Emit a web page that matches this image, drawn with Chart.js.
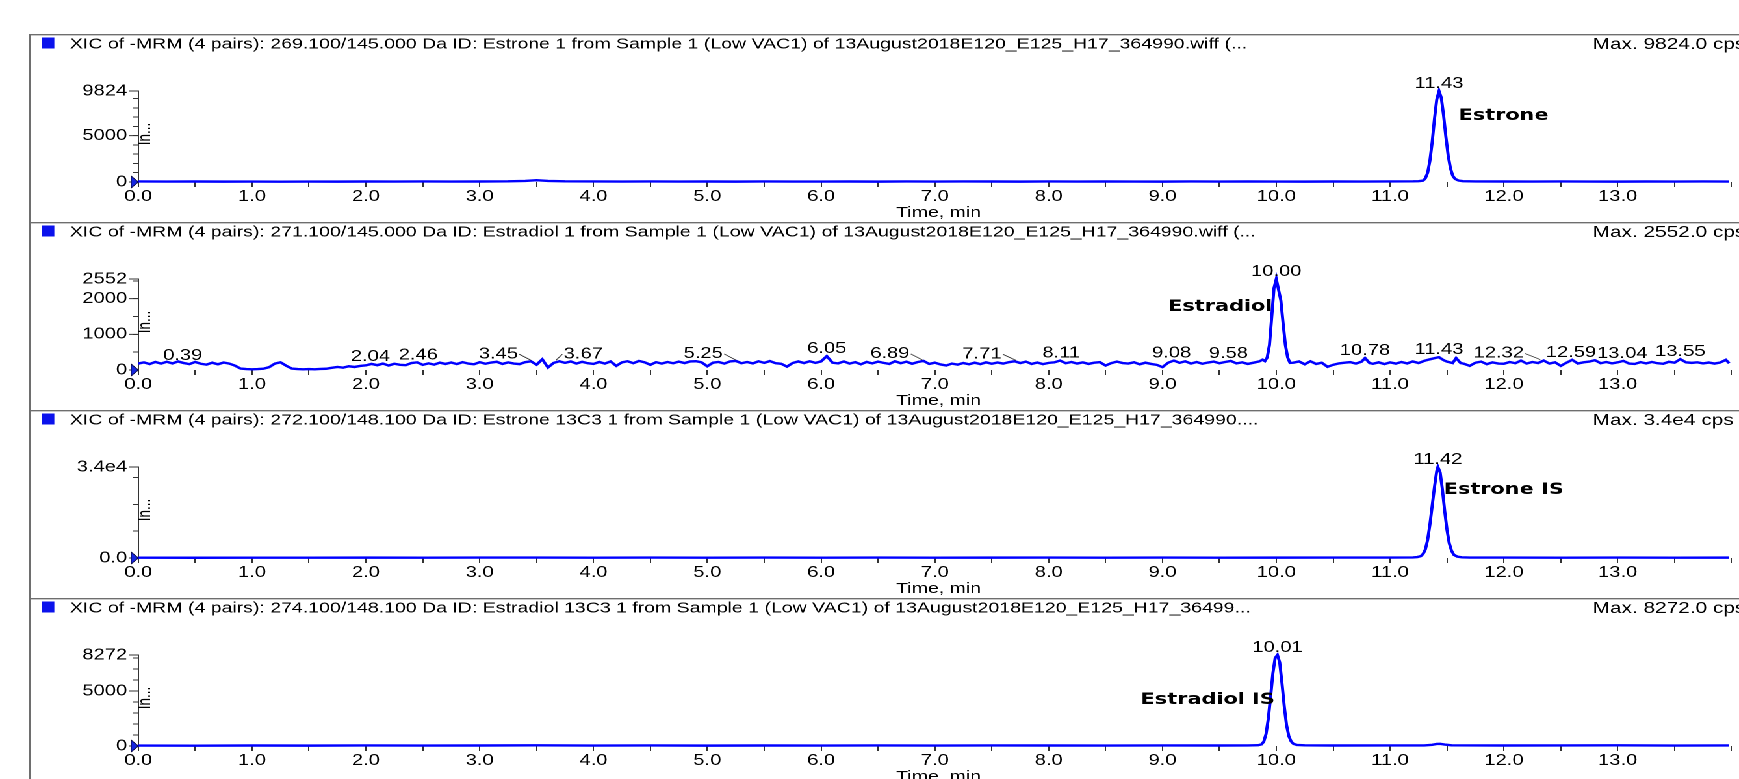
<!DOCTYPE html>
<html>
<head>
<meta charset="utf-8">
<title>XIC of -MRM (4 pairs)</title>
<script src="https://cdn.jsdelivr.net/npm/chart.js@4.4.1/dist/chart.umd.min.js"></script>
<style>
  html, body { margin: 0; padding: 0; background: #fff; overflow: hidden; width: 1739px; height: 779px; }
  /* the traces are laid out on a 1338px-wide sheet and widened to the window */
  #sheet { position: absolute; left: 0; top: 0; width: 1338px; height: 779px; transform-origin: 0 0; transform: scaleX(1.2997); }
  .panel { position: absolute; left: 0; width: 1338px; height: 188px; }
  canvas { display: block; }
</style>
</head>
<body>
<div id="sheet">
  <div class="panel" style="top:34px"><canvas id="xic1" width="1338" height="188"></canvas></div>
  <div class="panel" style="top:222px"><canvas id="xic2" width="1338" height="188"></canvas></div>
  <div class="panel" style="top:410px"><canvas id="xic3" width="1338" height="188"></canvas></div>
  <div class="panel" style="top:598px"><canvas id="xic4" width="1338" height="188"></canvas></div>
</div>
<script>
// ---- chromatogram data: [retention time (min), intensity (cps)] ----
const estrone = [
  [0,60],[0.25,45],[0.5,55],[0.75,40],[1,50],[1.25,35],[1.5,45],[1.75,40],[2,55],[2.25,45],[2.5,60],[2.75,50],
  [3,55],[3.25,70],[3.4,120],[3.5,190],[3.6,110],[3.75,70],[4,60],[4.25,50],[4.5,65],[4.75,45],[5,55],[5.25,40],
  [5.5,60],[5.75,50],[6,45],[6.25,55],[6.5,40],[6.75,60],[7,50],[7.25,65],[7.5,55],[7.75,40],[8,60],[8.25,45],
  [8.5,55],[8.75,50],[9,40],[9.25,60],[9.5,45],[9.75,55],[10,50],[10.25,40],[10.5,55],[10.75,45],[11,60],[11.2,70],
  [11.25,90],[11.29,150],[11.31,400],[11.33,1000],[11.35,2300],[11.37,4300],[11.39,6800],[11.41,8900],[11.43,9824],
  [11.45,9100],[11.47,7200],[11.49,4900],[11.51,2900],[11.53,1500],[11.55,700],[11.57,350],[11.6,160],[11.64,90],
  [11.75,60],[12,55],[12.25,45],[12.5,60],[12.75,50],[13,40],[13.25,55],[13.5,45],[13.75,60],[13.98,50]
];

const estradiol = [
  [0,180],[0.05,215],[0.1,165],[0.15,225],[0.2,180],[0.25,230],[0.3,185],[0.35,240],[0.4,195],[0.45,165],
  [0.5,225],[0.55,175],[0.6,150],[0.65,205],[0.7,160],[0.75,210],[0.8,180],[0.85,120],[0.9,40],[0.95,25],
  [1,20],[1.05,25],[1.1,35],[1.15,80],[1.2,180],[1.25,215],[1.3,120],[1.35,40],[1.4,25],[1.45,20],
  [1.5,25],[1.55,20],[1.6,30],[1.65,35],[1.7,60],[1.75,85],[1.8,65],[1.85,105],[1.9,85],[1.95,115],
  [2,130],[2.05,170],[2.1,135],[2.15,180],[2.2,125],[2.25,175],[2.3,145],[2.35,135],[2.4,195],[2.45,215],
  [2.5,145],[2.55,185],[2.6,150],[2.65,205],[2.7,170],[2.75,210],[2.8,165],[2.85,220],[2.9,180],[2.95,160],
  [3,220],[3.05,175],[3.1,210],[3.15,230],[3.2,170],[3.25,215],[3.3,180],[3.35,165],[3.4,220],[3.45,245],
  [3.5,150],[3.55,300],[3.6,70],[3.65,200],[3.7,245],[3.75,200],[3.8,240],[3.85,180],[3.9,230],[3.95,190],
  [4,170],[4.05,225],[4.1,180],[4.15,240],[4.2,115],[4.25,215],[4.3,245],[4.35,190],[4.4,255],[4.45,215],
  [4.5,145],[4.55,220],[4.6,180],[4.65,225],[4.7,190],[4.75,235],[4.8,195],[4.85,240],[4.9,245],[4.95,215],
  [5,105],[5.05,205],[5.1,225],[5.15,180],[5.2,240],[5.25,255],[5.3,190],[5.35,225],[5.4,185],[5.45,245],
  [5.5,200],[5.55,250],[5.6,190],[5.65,175],[5.7,95],[5.75,195],[5.8,240],[5.85,195],[5.9,245],[5.95,200],
  [6,240],[6.05,390],[6.1,205],[6.15,185],[6.2,240],[6.25,180],[6.3,220],[6.35,160],[6.4,225],[6.45,185],
  [6.5,235],[6.55,200],[6.6,170],[6.65,245],[6.7,190],[6.75,235],[6.8,175],[6.85,225],[6.9,255],[6.95,170],
  [7,205],[7.05,155],[7.1,125],[7.15,180],[7.2,150],[7.25,195],[7.3,160],[7.35,205],[7.4,165],[7.45,215],
  [7.5,175],[7.55,210],[7.6,180],[7.65,220],[7.7,245],[7.75,195],[7.8,235],[7.85,170],[7.9,210],[7.95,165],
  [8,200],[8.05,215],[8.1,265],[8.15,190],[8.2,225],[8.25,180],[8.3,215],[8.35,170],[8.4,205],[8.45,220],
  [8.5,125],[8.55,195],[8.6,235],[8.65,195],[8.7,180],[8.75,215],[8.8,160],[8.85,205],[8.9,170],[8.95,145],
  [9,80],[9.05,205],[9.1,265],[9.15,200],[9.2,245],[9.25,180],[9.3,225],[9.35,175],[9.4,210],[9.45,235],
  [9.5,190],[9.55,225],[9.6,255],[9.65,185],[9.7,215],[9.75,170],[9.8,205],[9.85,240],[9.88,290],[9.9,250],
  [9.92,350],[9.94,700],[9.96,1500],[9.98,2300],[10,2552],[10.02,2250],[10.04,1950],[10.06,1300],[10.08,700],
  [10.1,350],[10.12,200],[10.15,205],[10.2,240],[10.25,160],[10.3,245],[10.35,170],[10.4,205],[10.45,90],
  [10.5,145],[10.55,185],[10.6,205],[10.65,220],[10.7,180],[10.75,235],[10.78,335],[10.82,195],[10.85,175],
  [10.9,215],[10.95,165],[11,215],[11.05,180],[11.1,225],[11.15,185],[11.2,240],[11.25,195],[11.3,255],
  [11.35,300],[11.4,340],[11.43,360],[11.47,275],[11.5,235],[11.55,195],[11.58,335],[11.62,195],[11.65,175],
  [11.7,115],[11.75,205],[11.8,235],[11.85,165],[11.9,215],[11.95,180],[12,175],[12.05,225],[12.1,190],
  [12.15,265],[12.2,180],[12.25,225],[12.3,195],[12.35,265],[12.4,180],[12.45,215],[12.5,115],[12.55,205],
  [12.6,285],[12.65,180],[12.7,215],[12.75,235],[12.8,275],[12.85,190],[12.9,225],[12.95,185],[13,215],
  [13.05,255],[13.1,180],[13.15,170],[13.2,220],[13.25,185],[13.3,225],[13.35,190],[13.4,175],[13.45,230],
  [13.5,205],[13.55,305],[13.6,215],[13.65,200],[13.7,215],[13.75,185],[13.8,210],[13.85,180],[13.9,210],
  [13.95,285],[13.98,190]
];

const estroneIS = [
  [0,120],[0.5,90],[1,130],[1.5,100],[2,140],[2.5,110],[3,150],[3.5,180],[4,130],[4.5,150],[5,120],[5.5,160],
  [6,130],[6.5,150],[7,120],[7.5,140],[8,160],[8.5,130],[9,150],[9.5,120],[10,140],[10.5,160],[11,170],[11.2,200],
  [11.24,350],[11.27,700],[11.29,1500],[11.31,3200],[11.33,6800],[11.35,12500],[11.37,19500],[11.39,26500],
  [11.41,32500],[11.42,34000],[11.44,32000],[11.46,25500],[11.48,17500],[11.5,10500],[11.52,5500],[11.54,2700],
  [11.56,1200],[11.59,500],[11.63,260],[11.7,180],[12,150],[12.5,130],[13,150],[13.5,120],[13.98,140]
];

const estradiolIS = [
  [0,40],[0.5,30],[1,45],[1.5,35],[2,50],[2.5,40],[3,45],[3.5,60],[4,40],[4.5,50],[5,35],[5.5,45],[6,40],
  [6.5,55],[7,40],[7.5,50],[8,45],[8.5,40],[9,55],[9.5,45],[9.75,50],[9.84,70],[9.87,150],[9.89,400],[9.91,1100],
  [9.93,2500],[9.95,4500],[9.97,6600],[9.99,8000],[10.01,8272],[10.03,7600],[10.05,5700],[10.07,3600],
  [10.09,1900],[10.11,900],[10.13,420],[10.15,200],[10.18,100],[10.25,60],[10.5,45],[11,50],[11.3,55],
  [11.37,110],[11.41,190],[11.44,200],[11.48,130],[11.54,60],[12,45],[12.5,50],[13,60],[13.5,40],[13.98,50]
];

// ---- labelled retention times ----
const estronePeaks = [11.43];
const estradiolPeaks = [0.39, 2.04, 2.46, 3.45, 3.67, 5.25, 6.05, 6.89, 7.71, 8.11, 9.08, 9.58,
                        10.00, 10.78, 11.43, 12.32, 12.59, 13.04, 13.55];
const estroneISPeaks = [11.42];
const estradiolISPeaks = [10.01];

// ---- axis ticks ----
const timeTicks = [0,0.5,1,1.5,2,2.5,3,3.5,4,4.5,5,5.5,6,6.5,7,7.5,8,8.5,9,9.5,10,10.5,11,11.5,12,12.5,13,13.5,14];
const timeLabels = [0,1,2,3,4,5,6,7,8,9,10,11,12,13];

const estroneYTicks = [0,1000,2000,3000,4000,5000,6000,7000,8000,9000,9824];
const estroneYLabels = ['0', '5000', '9824'];
const estroneYLabelValues = [0, 5000, 9824];

const estradiolYTicks = [0,500,1000,1500,2000,2500,2552];
const estradiolYLabels = ['0', '1000', '2000', '2552'];
const estradiolYLabelValues = [0, 1000, 2000, 2552];

const estroneISYTicks = [0,10000,20000,30000,34000];
const estroneISYLabels = ['0.0', '3.4e4'];
const estroneISYLabelValues = [0, 34000];

const estradiolISYTicks = [0,1000,2000,3000,4000,5000,6000,7000,8000,8272];
const estradiolISYLabels = ['0', '5000', '8272'];
const estradiolISYLabelValues = [0, 5000, 8272];

// ---- panel headers ----
const titles = [
  'XIC of -MRM (4 pairs): 269.100/145.000 Da ID: Estrone 1 from Sample 1 (Low VAC1) of 13August2018E120_E125_H17_364990.wiff (...',
  'XIC of -MRM (4 pairs): 271.100/145.000 Da ID: Estradiol 1 from Sample 1 (Low VAC1) of 13August2018E120_E125_H17_364990.wiff (...',
  'XIC of -MRM (4 pairs): 272.100/148.100 Da ID: Estrone 13C3 1 from Sample 1 (Low VAC1) of 13August2018E120_E125_H17_364990....',
  'XIC of -MRM (4 pairs): 274.100/148.100 Da ID: Estradiol 13C3 1 from Sample 1 (Low VAC1) of 13August2018E120_E125_H17_36499...'
];
const maxTexts = ['Max. 9824.0 cps', 'Max. 2552.0 cps', 'Max. 3.4e4 cps', 'Max. 8272.0 cps'];
const compounds = ['Estrone', 'Estradiol', 'Estrone IS', 'Estradiol IS'];

// ---------------------------------------------------------------
const SANS = '"Liberation Sans", Arial, Helvetica, sans-serif';
const BOLD = '"DejaVu Sans", Verdana, sans-serif';
const INK = '#000';
const TIME_MAX = 14.066;

function localMax(data, t, w) {
  let m = -Infinity;
  for (const p of data) if (Math.abs(p.x - t) <= w + 1e-9) m = Math.max(m, p.y);
  return m;
}

// header, frame, axis marker and peak annotations of one XIC pane
const xicDecor = {
  id: 'xicDecor',
  afterDraw(chart, args, o) {
    const ctx = chart.ctx;
    const { left, top } = chart.chartArea;
    const xs = chart.scales.x, ys = chart.scales.y;
    const data = chart.data.datasets[0].data;
    ctx.save();

    // pane frame
    ctx.strokeStyle = '#6e6e6e';
    ctx.lineWidth = 1.3;
    ctx.beginPath();
    ctx.moveTo(23.1, 0.7); ctx.lineTo(chart.width, 0.7);
    ctx.moveTo(23.1, 0); ctx.lineTo(23.1, chart.height);
    ctx.stroke();

    // trace colour box + header
    ctx.fillStyle = '#0b12ec';
    ctx.fillRect(32.3, 3.5, 9.5, 11);
    ctx.fillStyle = INK;
    ctx.font = '15px ' + SANS;
    ctx.textAlign = 'left';
    ctx.textBaseline = 'middle';
    ctx.fillText(o.title, 53.8, 10.5);
    ctx.font = '16px ' + SANS;
    ctx.fillText(o.maxText, 1225.4, 10.5);

    // longer marks on the labelled intensity ticks
    ctx.strokeStyle = '#333';
    ctx.lineWidth = 1;
    ctx.beginPath();
    for (const v of o.yMajor) {
      const y = ys.getPixelForValue(v);
      ctx.moveTo(left - 7, y); ctx.lineTo(left, y);
    }
    ctx.stroke();

    // intensity axis caption
    ctx.save();
    ctx.translate(left + 5.5, top + 43);
    ctx.rotate(-Math.PI / 2);
    ctx.font = '13.5px ' + SANS;
    ctx.textAlign = 'center';
    ctx.textBaseline = 'middle';
    ctx.fillStyle = INK;
    ctx.fillText('In...', 0, 0);
    ctx.restore();

    // baseline marker
    const y0 = ys.getPixelForValue(0);
    ctx.beginPath();
    ctx.moveTo(left, y0);
    ctx.lineTo(left - 5.5, y0 - 6);
    ctx.lineTo(left - 5.5, y0 + 6);
    ctx.closePath();
    ctx.fillStyle = '#1626e0';
    ctx.fill();
    ctx.strokeStyle = '#0a0a40';
    ctx.lineWidth = 0.8;
    ctx.stroke();

    // retention-time labels
    ctx.font = '15.5px ' + SANS;
    ctx.fillStyle = INK;
    ctx.textAlign = 'center';
    ctx.textBaseline = 'alphabetic';
    for (const t of o.peaks) {
      const txt = t.toFixed(2);
      const px = xs.getPixelForValue(t);
      const py = ys.getPixelForValue(localMax(data, t, 0.03));
      const dx = (o.leaders && o.leaders[txt]) || 0;
      const by = py - 3;
      ctx.fillText(txt, px + dx, by);
      if (dx) {
        const w = ctx.measureText(txt).width;
        const sx = dx < 0 ? px + dx + w / 2 + 1 : px + dx - w / 2 - 1;
        ctx.beginPath();
        ctx.moveTo(sx, by - 4);
        ctx.lineTo(px, by + 2);
        ctx.strokeStyle = '#333';
        ctx.lineWidth = 0.8;
        ctx.stroke();
      }
    }

    // compound name
    const c = o.compound;
    ctx.font = 'bold 16px ' + BOLD;
    ctx.textAlign = c.align;
    ctx.textBaseline = 'middle';
    ctx.fillStyle = '#000';
    ctx.fillText(c.text, xs.getPixelForValue(c.at) + c.dx, c.y);

    ctx.restore();
  }
};

function makeXic(id, points, yMax, yTicks, yLabelValues, yLabels, decor) {
  decor.yMajor = yLabelValues;
  return new Chart(document.getElementById(id), {
    type: 'line',
    data: {
      datasets: [{
        data: points.map(([x, y]) => ({ x, y })),
        borderColor: '#0000ff',
        borderWidth: 2.4,
        pointRadius: 0,
        tension: 0,
        fill: false,
        clip: false
      }]
    },
    options: {
      responsive: false,
      animation: false,
      devicePixelRatio: 2,
      events: [],
      layout: { padding: { top: 57, left: 0, right: 0, bottom: 0 } },
      plugins: { legend: { display: false }, tooltip: { enabled: false }, xicDecor: decor },
      scales: {
        x: {
          type: 'linear', min: 0, max: TIME_MAX,
          border: { display: false },
          grid: { drawOnChartArea: false, drawTicks: true, tickLength: 5, tickColor: '#333', tickWidth: 1 },
          ticks: {
            autoSkip: false, maxRotation: 0, minRotation: 0, padding: 0.5, color: INK,
            font: { family: SANS, size: 15.5 },
            callback: v => timeLabels.includes(v) ? v.toFixed(1) : ''
          },
          title: { display: true, text: 'Time, min', color: INK, font: { family: SANS, size: 15 }, padding: { top: 0, bottom: 0 } },
          afterBuildTicks: s => { s.ticks = timeTicks.map(v => ({ value: v })); },
          afterFit: s => { s.height = 40; }
        },
        y: {
          type: 'linear', min: 0, max: yMax,
          border: { display: true, color: '#333', width: 1 },
          grid: { drawOnChartArea: false, drawTicks: true, tickLength: 4, tickColor: '#333' },
          ticks: {
            autoSkip: false, padding: 4.5, color: INK,
            font: { family: SANS, size: 15.5 },
            callback: v => { const i = yLabelValues.indexOf(v); return i >= 0 ? yLabels[i] : ''; }
          },
          afterBuildTicks: s => { s.ticks = yTicks.map(v => ({ value: v })); },
          afterFit: s => { s.width = 106.4; }
        }
      }
    },
    plugins: [xicDecor]
  });
}

makeXic('xic1', estrone, 9824, estroneYTicks, estroneYLabelValues, estroneYLabels, {
  title: titles[0], maxText: maxTexts[0], peaks: estronePeaks,
  compound: { text: compounds[0], at: 11.43, dx: 15, y: 82, align: 'left' }
});
makeXic('xic2', estradiol, 2552, estradiolYTicks, estradiolYLabelValues, estradiolYLabels, {
  title: titles[1], maxText: maxTexts[1], peaks: estradiolPeaks,
  leaders: { '3.45': -25, '3.67': 21, '5.25': -25, '6.89': -25, '7.71': -26, '12.32': -32 },
  compound: { text: compounds[1], at: 10.00, dx: -3, y: 85, align: 'right' }
});
makeXic('xic3', estroneIS, 34000, estroneISYTicks, estroneISYLabelValues, estroneISYLabels, {
  title: titles[2], maxText: maxTexts[2], peaks: estroneISPeaks,
  compound: { text: compounds[2], at: 11.42, dx: 4.5, y: 80, align: 'left' }
});
makeXic('xic4', estradiolIS, 8272, estradiolISYTicks, estradiolISYLabelValues, estradiolISYLabels, {
  title: titles[3], maxText: maxTexts[3], peaks: estradiolISPeaks,
  compound: { text: compounds[3], at: 10.01, dx: -2, y: 102, align: 'right' }
});
</script>
</body>
</html>
